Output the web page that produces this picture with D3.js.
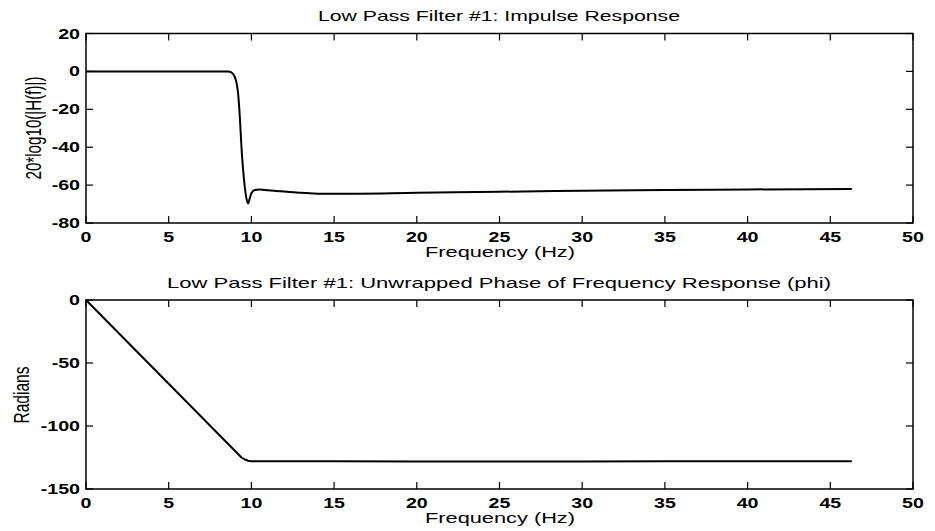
<!DOCTYPE html>
<html><head><meta charset="utf-8">
<script src="https://cdn.jsdelivr.net/npm/d3@7"></script>
<style>body{margin:0;background:#fff}svg{display:block}</style>
</head><body>
<script>
const magFreq = [0, 2, 4, 6, 8, 8.6, 8.8, 9.0, 9.1, 9.2, 9.3, 9.4, 9.5, 9.6, 9.7, 9.8, 9.9, 10.0, 10.2, 10.5, 11, 12, 13, 14, 15, 20, 25, 30, 35, 40, 46.3];
const magDb   = [0, 0, 0, 0, 0, 0, -0.6, -3, -6, -12, -24, -40, -52, -61, -67, -69.7, -67, -64.3, -62.6, -62.3, -62.7, -63.4, -64.1, -64.5, -64.6, -64.1, -63.5, -63, -62.6, -62.3, -62];
const phFreq = [0, 2, 4, 6, 8, 9, 9.4, 9.6, 9.8, 10, 15, 20, 25, 30, 35, 40, 46.3];
const phRad  = [0, -26.6, -53.2, -79.8, -106.4, -119.7, -125, -126.6, -127.6, -128, -128, -128.1, -128.1, -128.1, -128, -128, -128];
const xTicks = [0, 5, 10, 15, 20, 25, 30, 35, 40, 45, 50];
const magTicks = [20, 0, -20, -40, -60, -80];
const phTicks = [0, -50, -100, -150];

const W = 935, H = 531;
const svg = d3.select("body").append("svg").attr("width", W).attr("height", H);
const FONT = "'Liberation Sans', Arial, Helvetica, sans-serif";
const SX = 1.45; // horizontal stretch of the printed glyphs

function htext(g, x, y, str, size, anchor, weight, sx, width) {
  const t = g.append("text").attr("x", x).attr("y", y).attr("text-anchor", anchor)
    .attr("font-family", FONT).attr("font-size", size).attr("font-weight", weight).text(str);
  const nat = t.node().getComputedTextLength();
  t.attr("textLength", width || nat * sx).attr("lengthAdjust", "spacingAndGlyphs");
  return t;
}

function panel(cfg) {
  const x = d3.scaleLinear().domain([0, 50]).range([86, 913]);
  const y = d3.scaleLinear().domain(cfg.ydom).range([cfg.bottom, cfg.top]);
  const g = svg.append("g");
  const tl = 7;
  xTicks.forEach(t => {
    g.append("line").attr("x1", x(t)).attr("x2", x(t)).attr("y1", cfg.bottom).attr("y2", cfg.bottom - tl).attr("stroke", "#000").attr("stroke-width", 1.2);
    g.append("line").attr("x1", x(t)).attr("x2", x(t)).attr("y1", cfg.top).attr("y2", cfg.top + tl).attr("stroke", "#000").attr("stroke-width", 1.2);
    htext(g, x(t), cfg.bottom + 18.5, String(t), 14, "middle", "bold", 1.4);
  });
  cfg.yticks.forEach(t => {
    g.append("line").attr("x1", 86).attr("x2", 86 + tl).attr("y1", y(t)).attr("y2", y(t)).attr("stroke", "#000").attr("stroke-width", 1.2);
    g.append("line").attr("x1", 913).attr("x2", 913 - tl).attr("y1", y(t)).attr("y2", y(t)).attr("stroke", "#000").attr("stroke-width", 1.2);
    htext(g, 80, y(t) + 5, String(t), 14, "end", "bold", 1.4);
  });
  g.append("rect").attr("x", 86).attr("y", cfg.top).attr("width", 913 - 86).attr("height", cfg.bottom - cfg.top)
    .attr("fill", "none").attr("stroke", "#000").attr("stroke-width", 1.5);
  const line = d3.line().x(d => x(d[0])).y(d => y(d[1])).curve(cfg.curve);
  g.append("path").datum(cfg.xs.map((f, i) => [f, cfg.ys[i]])).attr("d", line)
    .attr("fill", "none").attr("stroke", "#000").attr("stroke-width", 2)
    .attr("stroke-linejoin", "round");
  htext(g, 499, cfg.top - 12.5, cfg.title, 15, "middle", "normal", SX, cfg.titleW);
  htext(g, 500, cfg.bottom + 34, "Frequency (Hz)", 14, "middle", "normal", SX, 150);
  g.append("text").attr("transform", `translate(${cfg.ylx},${cfg.yly}) scale(${SX},1) rotate(-90)`)
    .attr("text-anchor", "middle").attr("font-family", FONT).attr("font-size", cfg.ylsize)
    .attr("textLength", cfg.ylen).attr("lengthAdjust", "spacingAndGlyphs").text(cfg.ylabel);
}

panel({ydom: [-80, 20], top: 33.5, bottom: 223, yticks: magTicks, xs: magFreq, ys: magDb, curve: d3.curveMonotoneX,
  title: "Low Pass Filter #1: Impulse Response", titleW: 362,
  ylabel: "20*log10(|H(f)|)", ylx: 41, yly: 128, ylen: 103, ylsize: 15});
panel({ydom: [-150, 0], top: 300, bottom: 489, yticks: phTicks, xs: phFreq, ys: phRad, curve: d3.curveLinear,
  title: "Low Pass Filter #1: Unwrapped Phase of Frequency Response (phi)", titleW: 664,
  ylabel: "Radians", ylx: 29.3, yly: 395, ylen: 57, ylsize: 15.5});
</script>
</body></html>
